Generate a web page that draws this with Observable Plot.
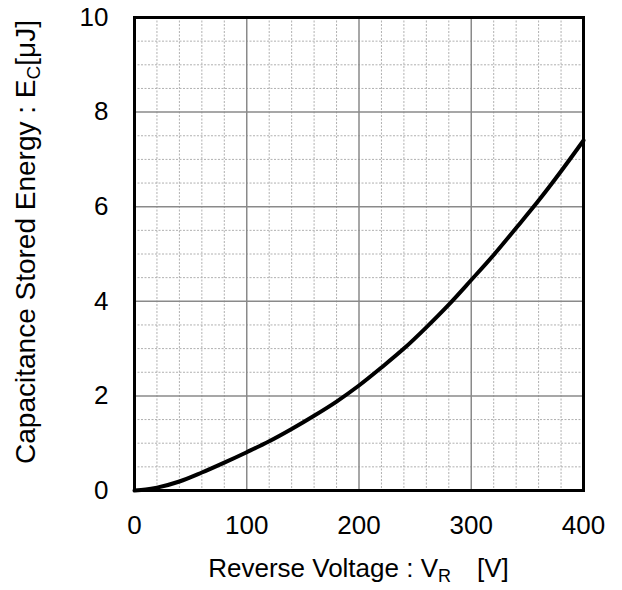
<!DOCTYPE html>
<html><head><meta charset="utf-8">
<script src="https://cdn.jsdelivr.net/npm/d3@7"></script>
<script src="https://cdn.jsdelivr.net/npm/@observablehq/plot@0.6"></script>
<style>body{margin:0;background:#fff}</style>
</head><body><div id="chart"></div>
<script>
const voltage = [0, 10, 20, 40, 60, 80, 100, 120, 140, 160, 180, 200, 220, 240, 260, 280, 300, 320, 340, 360, 380, 400];
const energy  = [0, 0.02, 0.06, 0.19, 0.38, 0.59, 0.81, 1.04, 1.30, 1.58, 1.88, 2.22, 2.60, 3.00, 3.45, 3.93, 4.45, 4.98, 5.55, 6.13, 6.75, 7.40];
const xTicks = [0, 100, 200, 300, 400];
const yTicks = [0, 2, 4, 6, 8, 10];
const xMinor = [20, 40, 60, 80, 120, 140, 160, 180, 220, 240, 260, 280, 320, 340, 360, 380];
const yMinor = [0.5, 1, 1.5, 2.5, 3, 3.5, 4.5, 5, 5.5, 6.5, 7, 7.5, 8.5, 9, 9.5];
const xLabel = ["Reverse Voltage : V", "R", "[V]"];
const yLabel = ["Capacitance Stored Energy : E", "C", "[μJ]"];

const data = voltage.map((v, i) => ({v, e: energy[i]}));
const W = 622, H = 590, mL = 134, mR = 39, mT = 17, mB = 100;
const font = "'Liberation Sans', Arial, sans-serif";

const chart = Plot.plot({
  width: W, height: H,
  marginLeft: mL, marginRight: mR, marginTop: mT, marginBottom: mB,
  style: {fontFamily: font, fontSize: "26px", background: "#fff", color: "#000"},
  x: {domain: [0, 400]},
  y: {domain: [0, 10]},
  marks: [
    Plot.ruleX(xMinor, {stroke: "#b0b0b0", strokeWidth: 1, strokeDasharray: "2,1.5", strokeOpacity: 1}),
    Plot.ruleY(yMinor, {stroke: "#b0b0b0", strokeWidth: 1, strokeDasharray: "2,1.5", strokeOpacity: 1}),
    Plot.ruleX(xTicks, {stroke: "#8a8a8a", strokeWidth: 1.5, strokeOpacity: 1}),
    Plot.ruleY(yTicks, {stroke: "#8a8a8a", strokeWidth: 1.5, strokeOpacity: 1}),
    Plot.line(data, {x: "v", y: "e", stroke: "#000", strokeWidth: 4, curve: "monotone-x"}),
    Plot.frame({stroke: "#000", strokeWidth: 3}),
    Plot.axisX(xTicks, {tickSize: 0, tickPadding: 25, fontSize: 26, label: null}),
    Plot.axisY(yTicks, {tickSize: 0, tickPadding: 26, fontSize: 26, label: null})
  ]
});
document.getElementById("chart").appendChild(chart);

const svg = d3.select(chart);
// x axis label
const xt = svg.append("text")
  .attr("x", (mL + W - mR) / 2).attr("y", 577)
  .attr("text-anchor", "middle")
  .attr("font-size", 26).attr("fill", "#000")
  .attr("font-family", font);
xt.append("tspan").text(xLabel[0]);
xt.append("tspan").attr("font-size", 18).attr("dy", 5).text(xLabel[1]);
xt.append("tspan").attr("dy", -5).attr("dx", 26).text(xLabel[2]);
// y axis label
const yt = svg.append("text")
  .attr("transform", `translate(35,242) rotate(-90)`)
  .attr("text-anchor", "middle")
  .attr("font-size", 28).attr("fill", "#000")
  .attr("font-family", font);
yt.append("tspan").text(yLabel[0]);
yt.append("tspan").attr("font-size", 19).attr("dy", 5).text(yLabel[1]);
yt.append("tspan").attr("dy", -5).text(yLabel[2]);
</script>
</body></html>
